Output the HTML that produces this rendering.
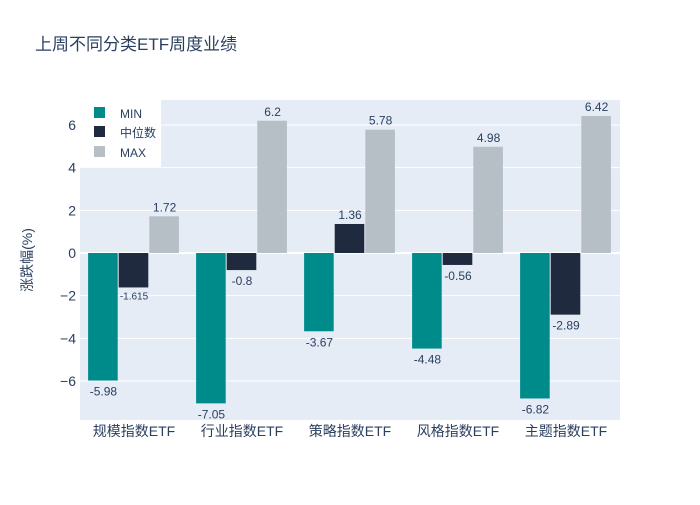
<!DOCTYPE html>
<html><head><meta charset="utf-8"><style>
body{margin:0;background:#fff;}
svg{font-family:"Liberation Sans","Noto Sans CJK SC",sans-serif;}
</style></head><body>
<svg id="chart" width="700" height="500">
<rect width="700" height="500" fill="#fff"/>
<text x="35" y="50" font-size="17" fill="#2a3f5f">上周不同分类ETF周度业绩</text>
<rect x="80" y="100" width="540" height="320" fill="#e5ecf6"/>
<g id="grid"></g><g id="bars"></g><g id="labels"></g>
<text transform="translate(32,260) rotate(-90)" text-anchor="middle" font-size="14" fill="#2a3f5f">涨跌幅(%)</text>
<g>
<rect x="80" y="100" width="81" height="67" fill="#fff"/>
<rect x="94" y="107" width="11" height="11" fill="#008b8b"/>
<text x="120" y="118" font-size="12" fill="#2a3f5f">MIN</text>
<rect x="94" y="126" width="11" height="11" fill="#1f2a3e"/>
<text x="120" y="137" font-size="12" fill="#2a3f5f">中位数</text>
<rect x="94" y="146" width="11" height="11" fill="#b6bec6"/>
<text x="120" y="157" font-size="12" fill="#2a3f5f">MAX</text>
</g>
</svg>
<script>
const categories=["规模指数ETF","行业指数ETF","策略指数ETF","风格指数ETF","主题指数ETF"];
const minVals=[-5.98,-7.05,-3.67,-4.48,-6.82];
const medVals=[-1.615,-0.8,1.36,-0.56,-2.89];
const maxVals=[1.72,6.2,5.78,4.98,6.42];
const yTicks=[-6,-4,-2,0,2,4,6];
const NS="http://www.w3.org/2000/svg";
const x0=80,pw=540,yZero=253,ppu=21.33;
const y=v=>yZero-v*ppu;
const bw=pw/categories.length;
function mk(tag,attrs,parent){const e=document.createElementNS(NS,tag);for(const k in attrs)e.setAttribute(k,attrs[k]);parent.appendChild(e);return e;}
const grid=document.getElementById('grid'),bars=document.getElementById('bars'),labels=document.getElementById('labels');
yTicks.forEach(t=>{
 const l=mk('line',{x1:80,x2:620,y1:y(t),y2:y(t),stroke:'#fff','stroke-width':t===0?2:1},grid);
 
 
 const tx=mk('text',{x:76,y:y(t)+5,'text-anchor':'end','font-size':14,fill:'#2a3f5f'},grid);
 tx.textContent=t<0?'−'+Math.abs(t):String(t);
 
 
});
const series=[{v:minVals,c:'#008b8b',n:'min'},{v:medVals,c:'#1f2a3e',n:'median'},{v:maxVals,c:'#b6bec6',n:'max'}];
const barW=bw*0.85/3;
categories.forEach((cat,i)=>{
 const gx=x0+i*bw+bw*0.075;
 series.forEach((s,j)=>{
  const v=s.v[i],bx=gx+j*barW;
  const r=mk('rect',{x:bx,y:Math.min(y(v),yZero),width:barW-1,height:Math.abs(y(v)-yZero),fill:s.c},bars);
  
  
  const small=Math.abs(v*ppu)<40&&v<0&&String(v).length>5;
  const t=mk('text',{x:bx+barW/2,y:v>=0?y(v)-5:(small?y(v)+12:y(v)+15),'text-anchor':'middle','font-size':small?10:12,fill:'#2a3f5f'},labels);
  t.textContent=String(v);
  
  
 });
 const ct=mk('text',{x:x0+i*bw+bw/2,y:436,'text-anchor':'middle','font-size':14,fill:'#2a3f5f'},labels);
 ct.textContent=cat;
 
 
});
</script>
</body></html>
